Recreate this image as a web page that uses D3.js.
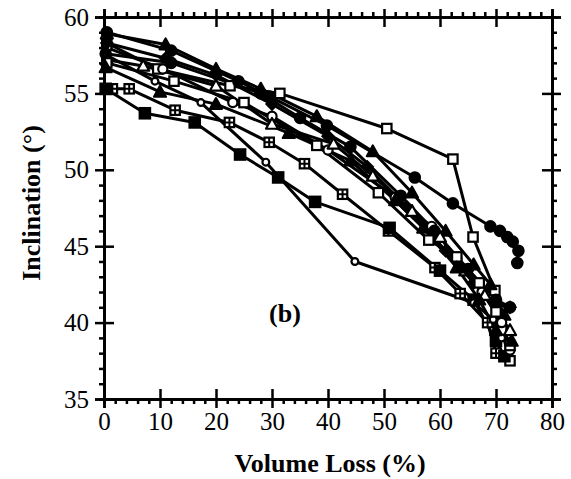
<!DOCTYPE html>
<html>
<head>
<meta charset="utf-8">
<script src="https://cdn.jsdelivr.net/npm/d3@7"></script>
<style>
  body { margin: 0; background: #fff; }
  .axis path, .axis line { stroke: #000; stroke-width: 2.5px; }
  .axis text { font-family: "Liberation Serif", "DejaVu Serif", serif; font-size: 25px; fill: #000; }
  .axis-title { font-family: "Liberation Serif", serif; font-weight: bold; font-size: 26px; }
</style>
</head>
<body>
<div id="chart"></div>
<script>
// x ticks / y ticks
var xTicks = [0, 10, 20, 30, 40, 50, 60, 70, 80];
var yTicks = [35, 40, 45, 50, 55, 60];

// series: [volume loss %, inclination deg]
var openSquareA = [[0.5,58.3],[9.6,56.6],[22.5,55.5],[31.4,55.0],[50.5,52.7],[62.3,50.7],[65.9,45.6],[69.8,42.1],[71,39.5],[72.5,37.5]];
var filledCircleB = [[0.5,59],[12,57.8],[24,55.8],[29.5,54.8],[39.8,52.9],[55.5,49.5],[62.3,47.8],[69,46.3],[70.7,46],[72,45.6],[73,45.3],[74,44.7],[73.8,43.9]];
var filledTriangleC = [[0.5,58.9],[11,58.2],[20,56.6],[28,55.3],[38,53.5],[48,51.2],[55,48.5],[61,46],[66,43.8],[69,42.5],[71.5,40.5]];
var crossSquareD = [[1.5,55.3],[4.5,55.3],[12.7,53.9],[22.4,53.1],[29.5,51.8],[35.8,50.4],[42.6,48.4],[50.8,46],[59.1,43.6],[63.6,41.9],[68.5,40],[70,38]];
var filledSquareE = [[0.3,55.3],[7.3,53.7],[16.2,53.1],[24.3,51],[31.1,49.5],[37.7,47.9],[51,46.2],[60,43.4],[66,41.5],[70,38.8],[71.5,37.8]];
var openDiamondF = [[0.5,57.5],[9.1,55.8],[17.3,54.4],[28.9,50.5],[44.8,44],[66,41.3],[69.5,40.2],[71,39]];
var openCircleG = [[0.5,58],[10.5,56.6],[23,54.4],[30,53.5],[40,51.3],[52,48.2],[58.5,46.3],[63,44.2],[67.5,42],[71,40],[72.5,38.2]];
var openTriangleH = [[0.5,57.2],[7,56.8],[20,55.5],[30,53],[41,51.7],[48,49.6],[55,47.3],[60,45.6],[64.5,43.4],[68,41.8],[72.5,39.5]];
var filledDiamondI = [[0.5,58.3],[11,57.3],[20,56.2],[30,54.3],[40,52.2],[47,50.2],[54,47.6],[61,44.7],[66,42.6],[70,41.2],[72.5,41]];
var filledCircleJ = [[0.3,57.6],[12,57],[28,55],[35,53.4],[44,51.5],[53,48.3],[59,46],[65,43.5],[70,41.5],[72.5,41]];
var openSquareK = [[0.5,57],[12.5,55.8],[25,54.4],[38,51.6],[49,48.5],[58,45.4],[63,44.3],[67,42.6],[70,40.7],[72.5,38.5]];
var filledTriangleL = [[0.3,56.7],[10,55.1],[20,54.3],[33,52.4],[44,50.6],[52,48],[57,46.2],[63,43.6],[67,41.5],[70,39.5],[72.8,38.8]];

var seriesList = [
  { pts: openSquareA, marker: "square", open: true },
  { pts: filledCircleB, marker: "circle", open: false },
  { pts: filledTriangleC, marker: "triangle", open: false },
  { pts: crossSquareD, marker: "cross", open: true },
  { pts: filledSquareE, marker: "square", open: false },
  { pts: openDiamondF, marker: "smallcircle", open: true },
  { pts: openCircleG, marker: "circle", open: true },
  { pts: openTriangleH, marker: "triangle", open: true },
  { pts: filledDiamondI, marker: "diamond", open: false },
  { pts: filledCircleJ, marker: "circle", open: false },
  { pts: openSquareK, marker: "square", open: true },
  { pts: filledTriangleL, marker: "triangle", open: false }
];

var W = 571, H = 479;
var svg = d3.select("#chart").append("svg").attr("width", W).attr("height", H);

var x = d3.scaleLinear().domain([0, 80]).range([104, 552]);
var y = d3.scaleLinear().domain([35, 60]).range([399, 17]);

var minorX = d3.range(0, 81, 2).filter(function(d) { return d % 10 !== 0; });
var minorY = d3.range(35, 61, 1).filter(function(d) { return d % 5 !== 0; });

// lines
var line = d3.line().x(function(d) { return x(d[0]); }).y(function(d) { return y(d[1]); });
var g = svg.append("g");
seriesList.forEach(function(s) {
  g.append("path").datum(s.pts).attr("d", line)
    .attr("fill", "none").attr("stroke", "#000").attr("stroke-width", 3)
    .attr("stroke-linejoin", "round");
});

// markers
function drawMarker(sel, s) {
  var fill = s.open ? "#fff" : "#000";
  s.pts.forEach(function(p) {
    var cx = x(p[0]), cy = y(p[1]);
    if (s.marker === "circle") {
      sel.append("circle").attr("cx", cx).attr("cy", cy).attr("r", s.open ? 4.6 : 5.2)
        .attr("fill", fill).attr("stroke", "#000").attr("stroke-width", 2.2);
    } else if (s.marker === "smallcircle") {
      sel.append("circle").attr("cx", cx).attr("cy", cy).attr("r", 3.4)
        .attr("fill", fill).attr("stroke", "#000").attr("stroke-width", 2.2);
    } else if (s.marker === "square" || s.marker === "cross") {
      var h = s.open ? 4.7 : 5.2;
      sel.append("rect").attr("x", cx - h).attr("y", cy - h).attr("width", 2 * h).attr("height", 2 * h)
        .attr("fill", fill).attr("stroke", "#000").attr("stroke-width", 2.2);
      if (s.marker === "cross") {
        sel.append("path").attr("d", "M" + cx + "," + (cy - h) + "V" + (cy + h) + "M" + (cx - h) + "," + cy + "H" + (cx + h))
          .attr("stroke", "#000").attr("stroke-width", 2);
      }
    } else if (s.marker === "triangle") {
      var r = 6;
      sel.append("path").attr("d", "M" + cx + "," + (cy - r) + "L" + (cx + r) + "," + (cy + r * 0.8) + "L" + (cx - r) + "," + (cy + r * 0.8) + "Z")
        .attr("fill", fill).attr("stroke", "#000").attr("stroke-width", 2.2).attr("stroke-linejoin", "round");
    } else if (s.marker === "diamond") {
      var d = 6;
      sel.append("path").attr("d", "M" + cx + "," + (cy - d) + "L" + (cx + d) + "," + cy + "L" + cx + "," + (cy + d) + "L" + (cx - d) + "," + cy + "Z")
        .attr("fill", fill).attr("stroke", "#000").attr("stroke-width", 1.5);
    }
  });
}
seriesList.forEach(function(s) { drawMarker(g.append("g"), s); });

// axes: major crossing ticks, minor outward
function addAxis(gen, tx, ty) {
  return svg.append("g").attr("class", "axis")
    .attr("transform", "translate(" + tx + "," + ty + ")").call(gen);
}
var fmt = d3.format("d");
// bottom
addAxis(d3.axisBottom(x).tickValues(xTicks).tickSize(9).tickPadding(4).tickFormat(fmt), 0, y(35));
addAxis(d3.axisBottom(x).tickValues(xTicks).tickSize(-10).tickFormat(""), 0, y(35));
addAxis(d3.axisBottom(x).tickValues(minorX).tickSize(5).tickFormat(""), 0, y(35));
// top
addAxis(d3.axisTop(x).tickValues(xTicks).tickSize(8).tickFormat(""), 0, y(60));
addAxis(d3.axisTop(x).tickValues(xTicks).tickSize(-10).tickFormat(""), 0, y(60));
addAxis(d3.axisTop(x).tickValues(minorX).tickSize(5).tickFormat(""), 0, y(60));
// left
addAxis(d3.axisLeft(y).tickValues(yTicks).tickSize(9).tickPadding(6).tickFormat(fmt), x(0), 0);
addAxis(d3.axisLeft(y).tickValues(yTicks).tickSize(-10).tickFormat(""), x(0), 0);
addAxis(d3.axisLeft(y).tickValues(minorY).tickSize(5).tickFormat(""), x(0), 0);
// right
addAxis(d3.axisRight(y).tickValues(yTicks).tickSize(9).tickFormat(""), x(80), 0);
addAxis(d3.axisRight(y).tickValues(yTicks).tickSize(-10).tickFormat(""), x(80), 0);
addAxis(d3.axisRight(y).tickValues(minorY).tickSize(5).tickFormat(""), x(80), 0);
svg.selectAll(".axis .domain").attr("stroke-width", 3);

// titles
svg.append("text").attr("class", "axis-title")
  .attr("x", x(40) + 2).attr("y", 472).attr("text-anchor", "middle")
  .text("Volume Loss (%)");
svg.append("text").attr("class", "axis-title")
  .attr("transform", "translate(40," + 203 + ") rotate(-90)")
  .attr("text-anchor", "middle")
  .text("Inclination (\u00B0)");
svg.append("text").attr("class", "axis-title")
  .attr("x", 285).attr("y", 322).attr("text-anchor", "middle")
  .text("(b)");
</script>
</body>
</html>
